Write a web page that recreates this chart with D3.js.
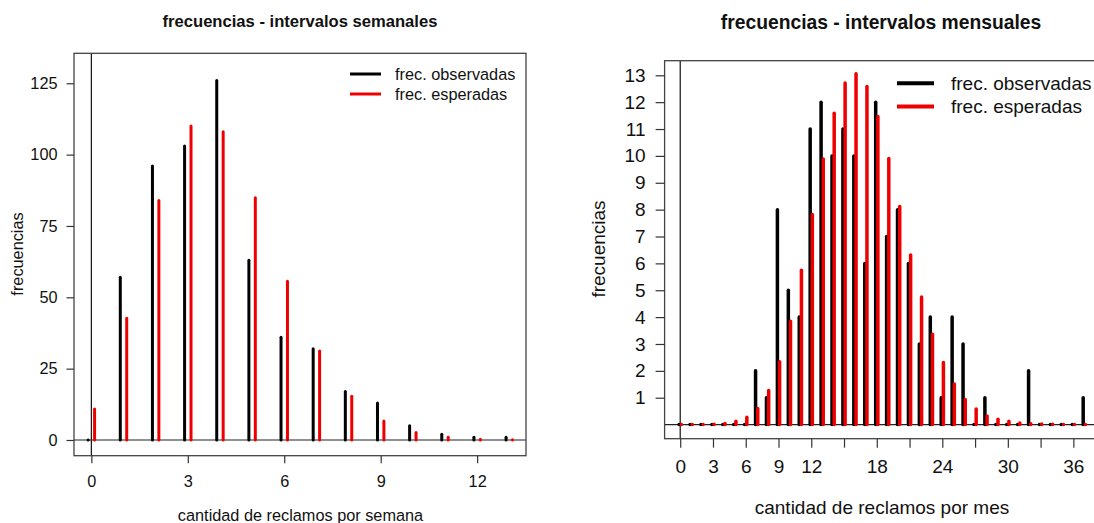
<!DOCTYPE html>
<html><head><meta charset="utf-8">
<script src="https://cdn.jsdelivr.net/npm/d3@7"></script>
<style>
body{margin:0;background:#fff}
svg{display:block}
text{font-family:"Liberation Sans",Arial,sans-serif;fill:#111}
</style>
</head><body>
<svg id="c" width="1094" height="523"></svg>
<script>
// ---- weekly data ----
const weeklyX   = [0,1,2,3,4,5,6,7,8,9,10,11,12,13];
const weeklyObs = [0,57,96,103,126,63,36,32,17,13,5,2,1,1];
const weeklyExp = [10.9,42.7,83.9,110,108,84.9,55.6,31.2,15.3,6.7,2.6,0.95,0.3,0.1];
const weeklyYTicks = [0,25,50,75,100,125];
const weeklyXTicks = [0,3,6,9,12];
const weeklyXLabels = ["0","3","6","9","12"];

// ---- monthly data ----
const monthlyX   = [0,1,2,3,4,5,6,7,8,9,10,11,12,13,14,15,16,17,18,19,20,21,22,23,24,25,26,27,28,29,30,31,32,33,34,35,36,37];
const monthlyObs = [0,0,0,0,0,0,0,2,1,8,5,4,11,12,10,11,10,6,12,7,8,6,3,4,1,4,3,0,1,0,0,0,2,0,0,0,0,1];
const monthlyExp = [0,0,0,0.01,0.04,0.12,0.27,0.6,1.27,2.34,3.85,5.74,7.82,9.88,11.59,12.71,13.06,12.58,11.47,9.9,8.12,6.31,4.75,3.36,2.31,1.51,0.93,0.58,0.32,0.2,0.12,0.06,0.03,0.02,0.01,0,0,0];
const monthlyYTicks = [1,2,3,4,5,6,7,8,9,10,11,12,13];
const monthlyXTicks = [0,3,6,9,12,15,18,21,24,27,30,33,36];
const monthlyXLabels = ["0","3","6","9","12","","18","","24","","30","","36"];

const legendLabels = ["frec. observadas","frec. esperadas"];
const RED = "#ee0000";

const svg = d3.select("#c");

function panel(c){
  const g = svg.append("g");
  const x = d3.scaleLinear().domain(c.xDomain).range([c.box.l, c.box.r]);
  const y = d3.scaleLinear().domain(c.yDomain).range([c.box.b, c.box.t]);

  // reference lines
  g.append("line").attr("x1",c.box.l).attr("x2",c.box.r).attr("y1",y(0)).attr("y2",y(0))
    .attr("stroke","#222").attr("stroke-width",1.2);
  g.append("line").attr("x1",x(0)).attr("x2",x(0)).attr("y1",c.box.t).attr("y2",c.box.b)
    .attr("stroke","#111").attr("stroke-width",1.2);

  // observed bars
  g.selectAll(".obs").data(c.xs).enter().append("line")
    .attr("x1",(d)=>x(d-0.1)).attr("x2",(d)=>x(d-0.1))
    .attr("y1",y(0)).attr("y2",(d,i)=>y(c.obs[i]))
    .attr("stroke","#000").attr("stroke-width",c.bw).attr("stroke-linecap","round");
  // expected bars
  g.selectAll(".exp").data(c.xs).enter().append("line")
    .attr("x1",(d)=>x(d+0.1)).attr("x2",(d)=>x(d+0.1))
    .attr("y1",y(0)).attr("y2",(d,i)=>y(c.exp[i]))
    .attr("stroke",RED).attr("stroke-width",c.bw).attr("stroke-linecap","round");

  // box
  g.append("rect").attr("x",c.box.l).attr("y",c.box.t)
    .attr("width",c.box.r-c.box.l).attr("height",c.box.b-c.box.t)
    .attr("fill","none").attr("stroke","#444").attr("stroke-width",1.3);

  // y axis
  const ya = d3.axisLeft(y).tickValues(c.yTicks).tickSize(c.tick).tickPadding(c.yPad).tickFormat(d3.format("d"));
  const yg = g.append("g").attr("transform",`translate(${c.box.l},0)`).call(ya);
  yg.select(".domain").remove();
  yg.selectAll(".tick line").attr("stroke","#333").attr("stroke-width",1.2);
  yg.selectAll(".tick text").style("font-size",c.fs+"px").attr("fill","#111")
    .style("font-family",'"Liberation Sans",Arial,sans-serif');

  // x axis
  const xa = d3.axisBottom(x).tickValues(c.xTicks).tickSize(c.tick).tickPadding(c.xPad)
    .tickFormat((d,i)=>c.xLabels[i]);
  const xg = g.append("g").attr("transform",`translate(0,${c.box.b})`).call(xa);
  xg.select(".domain").remove();
  xg.selectAll(".tick line").attr("stroke","#333").attr("stroke-width",1.2);
  xg.selectAll(".tick text").style("font-size",c.fs+"px").attr("fill","#111")
    .style("font-family",'"Liberation Sans",Arial,sans-serif');

  // title
  g.append("text").attr("x",c.titleX).attr("y",c.titleY).attr("text-anchor","middle")
    .style("font-size",c.tfs+"px").style("font-weight","bold").text(c.title);
  // x label
  g.append("text").attr("x",c.xlabX).attr("y",c.xlabY).attr("text-anchor","middle")
    .style("font-size",c.fs+"px").text(c.xlab);
  // y label
  g.append("text").attr("transform",`translate(${c.ylabX},${c.ylabY}) rotate(-90)`)
    .attr("text-anchor","middle").style("font-size",c.fs+"px").text("frecuencias");

  // legend
  const cols = ["#000", RED];
  legendLabels.forEach((lab,i)=>{
    const ly = c.leg.y[i];
    g.append("line").attr("x1",c.leg.x1).attr("x2",c.leg.x2).attr("y1",ly).attr("y2",ly)
      .attr("stroke",cols[i]).attr("stroke-width",c.legW);
    g.append("text").attr("x",c.leg.tx).attr("y",ly).attr("dy","0.35em")
      .style("font-size",c.fs+"px").text(lab);
  });
}

panel({
  xs:weeklyX, obs:weeklyObs, exp:weeklyExp,
  box:{l:74,r:526,t:53.3,b:455.7},
  xDomain:[-0.54,13.52], yDomain:[-5.5,135.5],
  yTicks:weeklyYTicks, xTicks:weeklyXTicks, xLabels:weeklyXLabels,
  tick:7.5, yPad:9, xPad:12, fs:16.3, tfs:16.6, bw:3,
  title:"frecuencias - intervalos semanales", titleX:300, titleY:26.5,
  xlab:"cantidad de reclamos por semana", xlabX:300.5, xlabY:521,
  ylabX:23, ylabY:254,
  leg:{x1:350,x2:381,tx:395,y:[74,94]}, legW:3
});

panel({
  xs:monthlyX, obs:monthlyObs, exp:monthlyExp,
  box:{l:664.6,r:1100,t:60.7,b:438.7},
  xDomain:[-1.43,38.44], yDomain:[-0.525,13.543],
  yTicks:monthlyYTicks, xTicks:monthlyXTicks, xLabels:monthlyXLabels,
  tick:9, yPad:10, xPad:12, fs:19, tfs:19.3, bw:3.5,
  title:"frecuencias - intervalos mensuales", titleX:881, titleY:29,
  xlab:"cantidad de reclamos por mes", xlabX:882, xlabY:514,
  ylabX:605, ylabY:249,
  leg:{x1:897,x2:934,tx:951,y:[83.3,106.5]}, legW:4
});
</script>
</body></html>
